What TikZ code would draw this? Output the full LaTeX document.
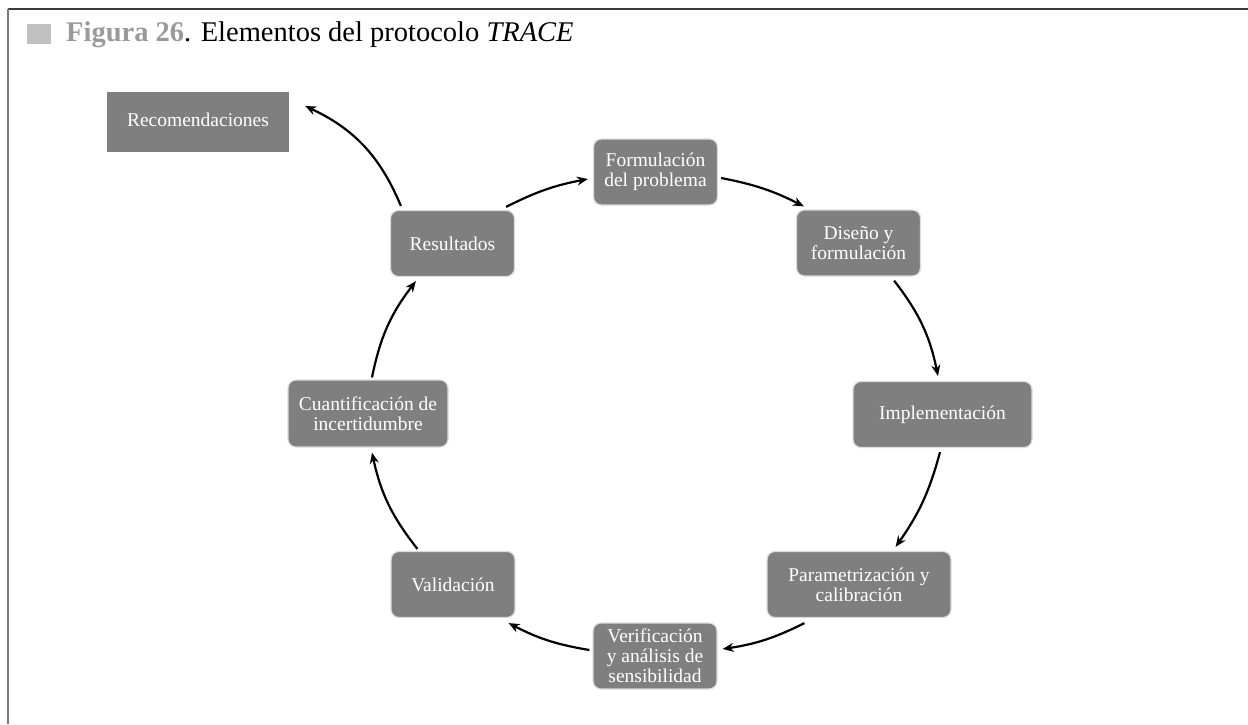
\documentclass[tikz,border=0pt]{standalone}
\usepackage{fontspec}
\setmainfont{Liberation Serif}
\usetikzlibrary{arrows.meta}
\definecolor{boxgray}{HTML}{7F7F7F}
\definecolor{edgegray}{HTML}{DCDCDC}
\definecolor{capgray}{HTML}{9A9A9A}
\definecolor{markgray}{HTML}{C0C0C0}
\definecolor{topline}{HTML}{3C3C3C}
\definecolor{sideline}{HTML}{7A7A7A}

\begin{document}
\begin{tikzpicture}[x=1pt,y=1pt,
  stage/.style={fill=boxgray, draw=edgegray, line width=1.2pt, rounded corners=8pt,
    text=white, font=\fontsize{19.5}{20}\selectfont, align=center, inner sep=0pt,
    minimum width=124pt, minimum height=66pt},
  flow/.style={-{Stealth[length=11pt,width=9pt]}, line width=2.2pt, black}]
\useasboundingbox (0,0) rectangle (1248,-724);
\fill[white] (0,0) rectangle (1248,-724);

% page frame: top rule and left rule
\draw[line width=2pt, topline] (7.5,-8.5) -- (1248,-8.5);
\draw[line width=2pt, sideline] (7.5,-8.5) -- (7.5,-724);

% caption
\node[fill=markgray, minimum width=24pt, minimum height=20pt, inner sep=0pt] (mark) at (39,-34) {};
\node[anchor=base west, inner sep=0pt, font=\fontsize{28.5}{31}\selectfont] (title) at (66,-41)
  {\textcolor{capgray}{\textbf{Figura 26}}. Elementos del protocolo \textit{TRACE}};

% cycle stages
\node[stage] (form) at (655.5,-172) {Formulación\\del problema};
\node[stage] (dis) at (858.5,-243) {Diseño y\\formulación};
\node[stage, minimum width=179pt] (impl) at (942.5,-414.5) {Implementación};
\node[stage, minimum width=184pt] (param) at (859,-584.5) {Parametrización y\\calibración};
\node[stage] (verif) at (655,-656) {Verificación\\y análisis de\\sensibilidad};
\node[stage] (valid) at (453,-584.5) {Validación};
\node[stage, minimum width=160pt, minimum height=67pt] (cuant) at (368,-413.5) {Cuantificación de\\incertidumbre};
\node[stage] (res) at (452.5,-243.5) {Resultados};

% outcome box
\node[fill=boxgray, text=white, font=\fontsize{19.5}{20}\selectfont, inner sep=0pt,
  minimum width=182pt, minimum height=60pt] (rec) at (198,-122) {\raisebox{4pt}{Recomendaciones}};

% connectors
\draw[flow] ([xshift=-9pt,yshift=3pt]res.north east) to[bend left=8] ([xshift=-5pt,yshift=-7pt]form.west);
\draw[flow] ([xshift=3pt,yshift=-6pt]form.east) to[bend left=8] ([xshift=8pt,yshift=3pt]dis.north west);
\draw[flow] ([xshift=-27pt,yshift=-4pt]dis.south east) to[bend left=13] ([xshift=-4.5pt,yshift=5pt]impl.north);
\draw[flow] ([xshift=-2.5pt,yshift=-4pt]impl.south) to[bend left=10] ([xshift=-56pt,yshift=4pt]param.north east);
\draw[flow] ([xshift=38pt,yshift=-5pt]param.south west) to[bend left=9] ([xshift=5pt,yshift=7pt]verif.east);
\draw[flow] ([xshift=-3pt,yshift=6pt]verif.west) to[bend left=9] ([xshift=-7pt,yshift=-5pt]valid.south east);
\draw[flow] ([xshift=27pt,yshift=2pt]valid.north west) to[bend left=13] ([xshift=4pt,yshift=-5pt]cuant.south);
\draw[flow] ([xshift=4pt,yshift=2pt]cuant.north) to[bend left=13] ([xshift=26pt,yshift=-4pt]res.south west);
\draw[flow] ([xshift=11pt,yshift=4pt]res.north west) to[bend right=21] ([xshift=16pt,yshift=16pt]rec.east);
\end{tikzpicture}
\end{document}
